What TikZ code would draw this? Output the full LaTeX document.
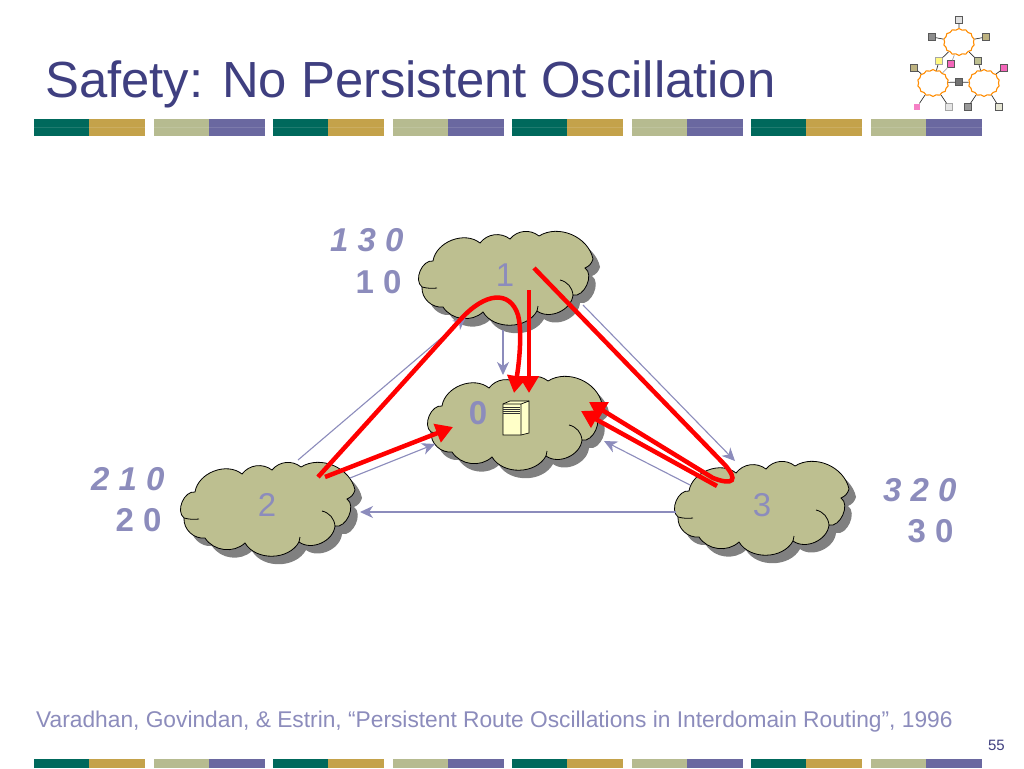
\documentclass[tikz,border=0pt]{standalone}
\usepackage{fontspec}
\setmainfont{Liberation Sans}
\usetikzlibrary{positioning}
\usetikzlibrary{shapes}
\usetikzlibrary{shapes.symbols}
\usetikzlibrary{arrows.meta}

\definecolor{titleblue}{HTML}{3F3F80}
\definecolor{softblue}{HTML}{8C8CBC}
\definecolor{cloudfill}{HTML}{BDBF90}
\definecolor{stripteal}{HTML}{00695C}
\definecolor{stripgold}{HTML}{C4A24A}
\definecolor{stripolive}{HTML}{B6BB90}
\definecolor{strippurple}{HTML}{6A68A0}
\definecolor{serverfill}{HTML}{FFFFC8}

\tikzset{
    thinarrow/.style = {draw=softblue, line width=1.1pt, -{Stealth[length=13pt,width=12pt,inset=4pt]}},
    redarrow/.style = {draw=red, line width=4.5pt, -{Triangle[length=17pt,width=19pt]}},
    hoplabel/.style = {draw=none, text=softblue, font=\fontsize{33}{33}\selectfont\bfseries, anchor=east},
    cloudlabel/.style = {draw=none, text=softblue, font=\fontsize{33}{33}\selectfont},
    logocloud/.style = {draw=orange!90!yellow, fill=white, cloud, cloud puffs=14, cloud puff arc=110, minimum width=31pt, minimum height=27pt, inner sep=0pt, line width=1.1pt},
    logobox/.style = {draw=black!65, line width=0.8pt, minimum size=6.5pt, inner sep=0pt},
}

% outline of one cloud, around (0,0), in pixels
\newcommand{\cloudoutline}{
    (-72,-13) to[bend left=60] (-25,-31) to[bend left=45] (5,-35) to[bend left=45] (34,-38)
    to[bend left=55] (88,-15) to[bend left=25] (80,-6) to[bend left=80] (68,21)
    to[bend left=60] (32,37) to[bend left=60] (-22,38) to[bend left=50] (-62,33)
    to[bend left=50] (-83,13) to[bend left=75] (-72,-13) -- cycle
}
\newcommand{\netcloud}[2]{
    \begin{scope}[shift={(#1,#2)}]
        \fill[black!50, shift={(7,8)}] \cloudoutline;
        \filldraw[fill=cloudfill, draw=black, line width=0.8pt] \cloudoutline;
        \draw[black, line width=0.8pt] (68,21) to[bend right=35] (55,6);
        \draw[black, line width=0.8pt] (-83,13) to[bend right=10] (-68,14);
        \draw[black, line width=0.8pt] (32,37) -- (33,32);
    \end{scope}
}
\newcommand{\stripset}[3]{
    \fill[stripteal] (#1,#2) rectangle ++(55,#3);
    \fill[stripgold] (#1+55,#2) rectangle ++(56,#3);
    \fill[stripolive] (#1+120,#2) rectangle ++(55,#3);
    \fill[strippurple] (#1+175,#2) rectangle ++(56,#3);
}

\begin{document}
\begin{tikzpicture}[x=1pt, y=-1pt]
    \useasboundingbox (0,0) rectangle (1024,768);
    \fill[white] (0,0) rectangle (1024,768);

    % strips
    \foreach \xstart in {34,273,512,751}{
        \stripset{\xstart}{119}{17}
        \stripset{\xstart}{759}{9}
    }
    \fill[white, opacity=0.12] (34,127) rectangle (982,128);

    % title and footer
    \node[draw=none, anchor=base west, inner sep=0pt, text=titleblue, font=\fontsize{50.8}{52}\selectfont] at (45,97) (title) {Safety: No Persistent Oscillation};
    \node[draw=none, anchor=base west, inner sep=0pt, text=softblue, font=\fontsize{22.75}{24}\selectfont] at (36,727) (source) {Varadhan, Govindan, \& Estrin, “Persistent Route Oscillations in Interdomain Routing”, 1996};
    \node[draw=none, anchor=base east, inner sep=0pt, text=titleblue, font=\fontsize{15}{15}\selectfont] at (1005,750) (page) {55};

    % logo
    \node[logocloud] at (959,42) (logotop) {};
    \node[logocloud] at (933,83) (logoleft) {};
    \node[logocloud] at (984,83) (logoright) {};
    \node[logobox, fill=black!12] at (959,20) (la) {};
    \node[logobox, fill=black!45] at (932,37) (lb) {};
    \node[logobox, fill=cloudfill!80!brown] at (986,37) (lc) {};
    \node[logobox, fill=yellow!50!white, draw=black!35] at (939,61) (ld) {};
    \node[logobox, fill=magenta!60!white] at (951,64) (le) {};
    \node[logobox, fill=cloudfill] at (978,61) (lf) {};
    \node[logobox, fill=cloudfill!80!brown] at (914,68) (lg) {};
    \node[logobox, fill=magenta!60!white] at (1004,68) (lh) {};
    \node[logobox, fill=black!55] at (959,82) (li) {};
    \node[logobox, fill=magenta!50!white, draw=none] at (917,107) (lj) {};
    \node[logobox, fill=black!10, draw=black!35] at (949,107) (lk) {};
    \node[logobox, fill=black!40] at (968,107) (ll) {};
    \node[logobox, fill=cloudfill!40!white] at (999,107) (lm) {};
    \foreach \from/\to in {la/logotop, lb/logotop, lc/logotop, ld/logotop, ld/logoleft, lf/logotop, lf/logoright, lg/logoleft, lh/logoright, li/logoleft, li/logoright, lj/logoleft, lk/logoleft, ll/logoright, lm/logoright}
        \draw[black!80, line width=0.7pt] (\from) -- (\to);
    \draw[black!35, line width=0.7pt] (le) -- (logotop);
    \draw[black!35, line width=0.7pt] (le) -- (logoleft);

    % thin arrows, under the clouds
    \coordinate (t1a) at (298,460);
    \coordinate (t1b) at (466,317);
    \coordinate (t2a) at (583,305);
    \coordinate (t2b) at (735,461);
    \coordinate (t3a) at (503,330);
    \coordinate (t3b) at (503,375);
    \coordinate (t4a) at (350,478);
    \coordinate (t4b) at (435,444);
    \coordinate (t5a) at (690,485);
    \coordinate (t5b) at (604,441);
    \coordinate (t6a) at (676,512);
    \coordinate (t6b) at (360,512);

    % clouds
    \netcloud{505}{274}
    \netcloud{514}{419}
    \netcloud{267}{505}
    \netcloud{761}{504}

    \draw[thinarrow] (t1a) -- (t1b);
    \draw[thinarrow] (t2a) -- (t2b);
    \draw[thinarrow] (t3a) -- (t3b);
    \draw[thinarrow] (t4a) -- (t4b);
    \draw[thinarrow] (t5a) -- (t5b);
    \draw[thinarrow, line width=1.4pt] (t6a) -- (t6b);

    \node[cloudlabel] at (505,275) (one) {1};
    \node[cloudlabel, font=\fontsize{33}{33}\selectfont\bfseries] at (478,413) (zero) {0};
    \node[cloudlabel] at (267,505) (two) {2};
    \node[cloudlabel] at (762,505) (three) {3};

    % server
    \filldraw[fill=serverfill, draw=black, line width=0.7pt] (503,404) -- (510,401) -- (529,401) -- (529,433) -- (521,435) -- (503,435) -- cycle;
    \draw[black, line width=0.7pt] (503,404) -- (521,404) -- (529,401) (521,404) -- (521,435);
    \foreach \yline in {407,409,411,413}
        \draw[black!80, line width=0.5pt] (503,\yline) -- (520,\yline);

    % hop lists
    \node[hoplabel, font=\fontsize{33}{33}\selectfont\bfseries\itshape] at (407,240) (hopa) {1 3 0};
    \node[hoplabel] at (405,282) (hopb) {1 0};
    \node[hoplabel, font=\fontsize{33}{33}\selectfont\bfseries\itshape] at (168,479) (hopc) {2 1 0};
    \node[hoplabel] at (165,520) (hopd) {2 0};
    \node[hoplabel, font=\fontsize{33}{33}\selectfont\bfseries\itshape] at (960,490) (hope) {3 2 0};
    \node[hoplabel] at (957,531) (hopf) {3 0};

    % red paths
    \coordinate (r1a) at (318,477);
    \coordinate (r1b) at (460,320);
    \coordinate (r1c) at (518,315);
    \coordinate (r1d) at (514,393);
    \coordinate (r2a) at (529,290);
    \coordinate (r2b) at (529,393);
    \coordinate (r3a) at (534,268);
    \coordinate (r3b) at (725,465);
    \coordinate (r3c) at (713,478);
    \coordinate (r3d) at (589,402);
    \coordinate (r4a) at (717,486);
    \coordinate (r4b) at (581,411);
    \coordinate (r5a) at (325,477);
    \coordinate (r5b) at (453,427);

    \draw[redarrow] (r1a) -- (r1b) .. controls (485,292) and (510,290) .. (r1c) .. controls (523,335) and (518,370) .. (r1d);
    \draw[redarrow] (r2a) -- (r2b);
    \draw[redarrow] (r3a) -- (r3b) .. controls (738,480) and (734,486) .. (r3c) -- (r3d);
    \draw[redarrow] (r4a) -- (r4b);
    \draw[redarrow] (r5a) -- (r5b);
\end{tikzpicture}
\end{document}
